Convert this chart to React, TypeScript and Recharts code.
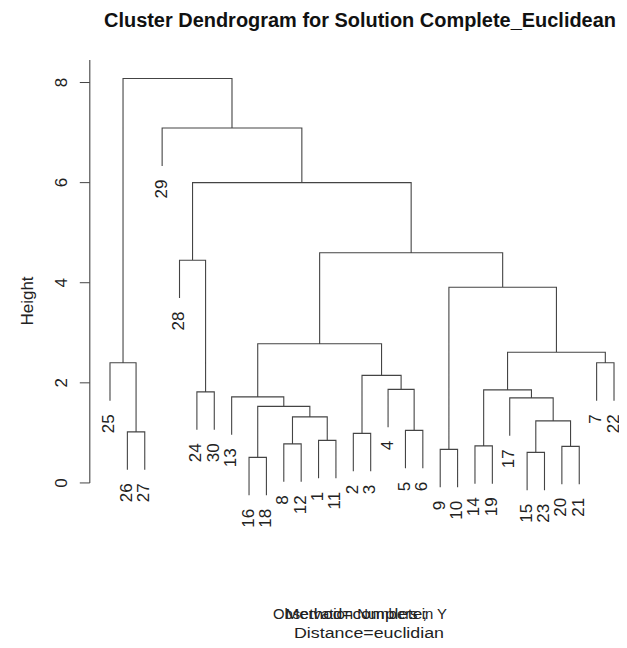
import React from "react";
import { ComposedChart, Line, Scatter, XAxis, YAxis, ReferenceLine } from 'recharts';

// hclust-style merge table: negative = observation number, positive = earlier merge (1-based)
const mergePairs: [number, number][] = [
    [-16, -18], [-15, -23], [-9, -10], [-20, -21], [-14, -19],
    [-8, -12], [-1, -11], [-2, -3], [-26, -27], [-5, -6],
    [2, 4], [6, 7], [1, 12], [-17, 11], [-13, 13],
    [-24, -30], [5, 14], [-4, 10], [8, 18], [-25, 9],
    [-7, -22], [17, 21], [15, 19], [3, 22], [-28, 16],
    [23, 24], [25, 26], [-29, 27], [20, 28],
];
const mergeHeights = [
    0.51, 0.61, 0.67, 0.73, 0.74,
    0.78, 0.85, 0.99, 1.02, 1.05,
    1.24, 1.32, 1.53, 1.70, 1.72,
    1.82, 1.86, 1.87, 2.15, 2.40,
    2.40, 2.61, 2.78, 3.91, 4.45,
    4.60, 6.00, 7.09, 8.08,
];
const yTicks = [0, 2, 4, 6, 8];

const FONT = '"Liberation Sans", Arial, Helvetica, sans-serif';
const LINE = '#444';

const hang = 0.1 * (Math.max(...mergeHeights) - Math.min(...mergeHeights));

// leaf order and node positions
const order: number[] = [];
const walk = (k: number) => {
    if (k < 0) { order.push(-k); return; }
    mergePairs[k - 1].forEach(walk);
};
walk(mergePairs.length);
const leafX = (obs: number) => order.indexOf(obs) + 1;
const nodeX: number[] = [];
mergePairs.forEach(([a, b], i) => {
    const xa = a < 0 ? leafX(-a) : nodeX[a - 1];
    const xb = b < 0 ? leafX(-b) : nodeX[b - 1];
    nodeX[i] = (xa + xb) / 2;
});

const segments: { x: number; y: number | null }[] = [];
const leaves: { x: number; y: number; label: string }[] = [];
mergePairs.forEach(([a, b], i) => {
    const h = mergeHeights[i];
    const child = (c: number) => {
        if (c < 0) {
            leaves.push({ x: leafX(-c), y: h - hang, label: String(-c) });
            return { x: leafX(-c), y: h - hang };
        }
        return { x: nodeX[c - 1], y: mergeHeights[c - 1] };
    };
    const l = child(a);
    const r = child(b);
    segments.push({ x: l.x, y: l.y }, { x: l.x, y: h }, { x: r.x, y: h }, { x: r.x, y: r.y }, { x: r.x, y: null });
});

const LeafLabel = (props: any) => {
    const { cx, cy, payload } = props;
    const tx = cx + 4.5;
    const ty = cy + 13.5;
    return (
        <text x={tx} y={ty} transform={`rotate(-90, ${tx}, ${ty})`} textAnchor="end"
              fontSize={17} fontFamily={FONT} fill="#222">{payload.label}</text>
    );
};

const YTick = (props: any) => {
    const { y, payload } = props;
    const tx = 59.3;
    return (
        <text x={tx} y={y} transform={`rotate(-90, ${tx}, ${y})`} textAnchor="middle"
              fontSize={17} fontFamily={FONT} fill="#222">{payload.value}</text>
    );
};

const W = 618;
const H = 630;

const App = () => (
    <div style={{ position: 'relative', width: W, height: H }}>
        <ComposedChart width={W} height={H} margin={{ top: 52, right: 0, bottom: 97.4, left: 0 }}>
            <XAxis type="number" dataKey="x" domain={[-0.162, 30.69]} hide allowDataOverflow />
            <YAxis type="number" domain={[-1.152, 8.45]} ticks={yTicks} width={81.8} axisLine={false}
                   tickSize={10} tickLine={{ stroke: LINE }} tick={<YTick />} allowDataOverflow />
            <ReferenceLine ifOverflow="visible" stroke={LINE} strokeWidth={1.1}
                           segment={[{ x: -0.162, y: 0 }, { x: -0.162, y: 8.45 }]} />
            <Line data={segments} dataKey="y" type="linear" stroke={LINE} strokeWidth={1.1}
                  dot={false} activeDot={false} isAnimationActive={false} />
            <Scatter data={leaves} dataKey="y" shape={<LeafLabel />} isAnimationActive={false} />
        </ComposedChart>
        <svg width={W} height={H} style={{ position: 'absolute', left: 0, top: 0, overflow: 'visible', pointerEvents: 'none' }}>
            <text x={352} y={18.7} textAnchor="middle" fontSize={20} fontWeight="bold" fontFamily={FONT} fill="#111"
                  textLength={512} lengthAdjust="spacingAndGlyphs">
                Cluster Dendrogram for Solution Complete_Euclidean
            </text>
            <text transform="translate(25, 293) rotate(-90)" textAnchor="middle" fontSize={17} fontFamily={FONT} fill="#222">
                Height
            </text>
            <text x={352} y={611} textAnchor="middle" fontSize={15.5} fontFamily={FONT} fill="#222"
                  textLength={174} lengthAdjust="spacingAndGlyphs">
                Observation Numbers in Y
            </text>
            <text x={348} y={611} textAnchor="middle" fontSize={15.5} fontFamily={FONT} fill="#222"
                  textLength={142} lengthAdjust="spacingAndGlyphs">
                Method=complete;
            </text>
            <text x={361} y={630} textAnchor="middle" fontSize={15.5} fontFamily={FONT} fill="#222"
                  textLength={150} lengthAdjust="spacingAndGlyphs">
                Distance=euclidian
            </text>
        </svg>
    </div>
);

export default App;
